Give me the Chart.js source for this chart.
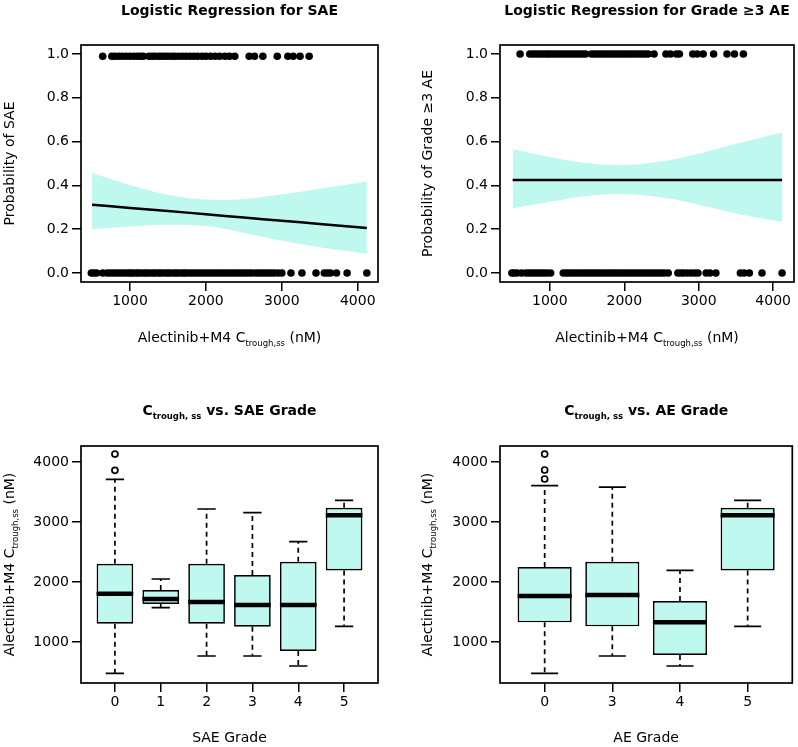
<!DOCTYPE html>
<html>
<head>
<meta charset="utf-8">
<script src="https://cdn.jsdelivr.net/npm/chart.js@4"></script>
<style>
  body { margin: 0; background: #fff; }
  #wrap { position: relative; width: 798px; height: 747px; }
  canvas { position: absolute; }
</style>
</head>
<body>
<div id="wrap">
  <canvas id="c-sae" width="400" height="380" style="left:0;top:0"></canvas>
  <canvas id="c-ae3" width="398" height="380" style="left:400px;top:0"></canvas>
  <canvas id="c-box-sae" width="400" height="367" style="left:0;top:380px"></canvas>
  <canvas id="c-box-ae" width="398" height="367" style="left:400px;top:380px"></canvas>
</div>
<script>
const FONT = 'DejaVu Sans';
const CYAN = '#bff8ee';

// ticks
const PROB_TICKS = [0, 0.2, 0.4, 0.6, 0.8, 1.0];
const CONC_TICKS = [1000, 2000, 3000, 4000];

// observaciones (x = Ctrough) por evento
const SAE_YES = [640, 760, 800, 850, 900, 950, 1000, 1050, 1100, 1140, 1175, 1250, 1290, 1330, 1380, 1420, 1460,
    1500, 1550, 1590, 1640, 1690, 1740, 1790, 1840, 1890, 1950, 2000, 2060, 2120, 2180, 2250, 2310, 2380,
    2570, 2640, 2750, 2940, 3080, 3150, 3240, 3360];
const SAE_NO = [490, 520, 560, 640, 700, 740, 780, 820, 860, 900, 940, 980, 1010, 1040, 1080, 1110, 1150, 1190,
    1220, 1260, 1300, 1330, 1370, 1400, 1440, 1480, 1510, 1550, 1590, 1620, 1660, 1700, 1730, 1770, 1810, 1850,
    1890, 1930, 1970, 2010, 2050, 2090, 2130, 2170, 2210, 2250, 2290, 2330, 2370, 2410, 2450, 2490, 2530, 2570,
    2610, 2660, 2700, 2740, 2780, 2820, 2860, 2900, 2950, 3000, 3120, 3265, 3450, 3560, 3600, 3640, 3720, 3860, 4120];
const AE3_YES = [600, 730, 770, 810, 850, 890, 930, 970, 1000, 1040, 1080, 1120, 1160, 1200, 1240, 1280, 1320,
    1360, 1400, 1440, 1480, 1560, 1600, 1640, 1680, 1720, 1760, 1800, 1840, 1880, 1920, 1960, 2000, 2040, 2080,
    2120, 2160, 2200, 2240, 2280, 2320, 2400, 2560, 2620, 2700, 2740, 2920, 2980, 3060, 3200, 3380, 3480, 3600];
const AE3_NO = [490, 520, 560, 620, 680, 720, 760, 800, 840, 880, 920, 960, 1010, 1180, 1220, 1260, 1300, 1340,
    1380, 1420, 1460, 1500, 1540, 1580, 1620, 1660, 1700, 1740, 1780, 1820, 1860, 1900, 1940, 1980, 2020, 2060,
    2100, 2140, 2180, 2220, 2260, 2300, 2340, 2380, 2420, 2460, 2500, 2540, 2590, 2720, 2760, 2800, 2850, 2900,
    2950, 2990, 3100, 3150, 3230, 3560, 3610, 3680, 3850, 4120];

// curvas ajustadas con IC
const CURVE_X = [500, 1000, 1500, 2000, 2500, 3000, 3500, 4120];
const SAE_FIT = [0.312, 0.297, 0.283, 0.268, 0.253, 0.238, 0.224, 0.205];
const SAE_UP = [0.457, 0.402, 0.357, 0.335, 0.338, 0.359, 0.385, 0.418];
const SAE_LO = [0.200, 0.212, 0.220, 0.214, 0.183, 0.148, 0.117, 0.087];
const AE3_FIT = [0.425, 0.425, 0.425, 0.425, 0.425, 0.425, 0.425, 0.425];
const AE3_UP = [0.565, 0.530, 0.502, 0.493, 0.510, 0.545, 0.590, 0.642];
const AE3_LO = [0.295, 0.325, 0.352, 0.360, 0.345, 0.312, 0.272, 0.233];

// boxplots
const SAE_GRADES = ['0', '1', '2', '3', '4', '5'];
const SAE_MIN = [478, 1572, 767, 767, 600, 1261];
const SAE_Q1 = [1305, 1633, 1305, 1255, 850, 2194];
const SAE_MED = [1805, 1717, 1667, 1617, 1617, 3111];
const SAE_Q3 = [2305, 1867, 2305, 2117, 2339, 3239];
const SAE_MAX = [3711, 2050, 3217, 3155, 2672, 3361];
const SAE_OUT = [[3861, 4133], [], [], [], [], []];

const AE_GRADES = ['0', '3', '4', '5'];
const AE_MIN = [478, 767, 600, 1261];
const AE_Q1 = [1328, 1261, 783, 2194];
const AE_MED = [1767, 1783, 1328, 3111];
const AE_Q3 = [2250, 2339, 1683, 3239];
const AE_MAX = [3606, 3583, 2194, 3361];
const AE_OUT = [[3717, 3867, 4133], [], [], []];

// texto con subindices
function drawParts(ctx, parts, cx, cy, angle) {
    ctx.save();
    ctx.translate(cx, cy);
    ctx.rotate(angle || 0);
    ctx.fillStyle = '#000';
    ctx.textAlign = 'left';
    ctx.textBaseline = 'alphabetic';
    let total = 0;
    parts.forEach(p => { ctx.font = p.font; p.w = ctx.measureText(p.t).width; total += p.w; });
    let x = -total / 2;
    parts.forEach(p => {
        ctx.font = p.font;
        ctx.fillText(p.t, x, 5 + (p.dy || 0));
        x += p.w;
    });
    ctx.restore();
}

const N14 = `14px "${FONT}"`;
const B14 = `bold 14px "${FONT}"`;
const S8 = `8.5px "${FONT}"`;
const SB8 = `bold 8.5px "${FONT}"`;
const CONC_LABEL = [{ t: 'Alectinib+M4 C', font: N14 }, { t: 'trough,ss', font: S8, dy: 4 }, { t: ' (nM)', font: N14 }];

const frame = {
    id: 'frame',
    afterDraw(chart) {
        const { ctx, chartArea: a } = chart;
        const o = chart.options.plugins.frame;
        ctx.save();
        ctx.strokeStyle = '#000';
        ctx.lineWidth = 1.7;
        ctx.strokeRect(a.left, a.top, a.right - a.left, a.bottom - a.top);
        ctx.restore();
        const mid = (a.left + a.right) / 2;
        drawParts(ctx, o.title, mid, o.titleY);
        drawParts(ctx, o.xTitle, mid, o.xTitleY);
        drawParts(ctx, o.yTitle, o.yTitleX, (a.top + a.bottom) / 2, -Math.PI / 2);
    }
};

const boxExtras = {
    id: 'boxExtras',
    afterDatasetsDraw(chart) {
        const o = chart.options.plugins.boxExtras;
        if (!o || !o.med) return;
        const { ctx } = chart;
        const xs = chart.scales.x, ys = chart.scales.y;
        const bars = chart.getDatasetMeta(0).data;
        ctx.save();
        ctx.strokeStyle = '#000';
        o.med.forEach((m, i) => {
            const x = xs.getPixelForValue(i + 1);
            const hw = bars[i].width / 2;
            // bigotes
            ctx.lineWidth = 1.7;
            ctx.setLineDash([5, 4]);
            ctx.beginPath();
            ctx.moveTo(x, ys.getPixelForValue(o.q3[i]));
            ctx.lineTo(x, ys.getPixelForValue(o.max[i]));
            ctx.moveTo(x, ys.getPixelForValue(o.q1[i]));
            ctx.lineTo(x, ys.getPixelForValue(o.min[i]));
            ctx.stroke();
            ctx.setLineDash([]);
            ctx.beginPath();
            ctx.moveTo(x - hw / 2, ys.getPixelForValue(o.max[i]));
            ctx.lineTo(x + hw / 2, ys.getPixelForValue(o.max[i]));
            ctx.moveTo(x - hw / 2, ys.getPixelForValue(o.min[i]));
            ctx.lineTo(x + hw / 2, ys.getPixelForValue(o.min[i]));
            ctx.stroke();
            // mediana
            ctx.lineWidth = 4.5;
            ctx.beginPath();
            ctx.moveTo(x - hw, ys.getPixelForValue(m));
            ctx.lineTo(x + hw, ys.getPixelForValue(m));
            ctx.stroke();
        });
        ctx.restore();
    }
};

function fixedTicks(values) {
    return scale => { scale.ticks = values.map(v => ({ value: v })); };
}

function axisCommon(extra) {
    return Object.assign({
        grid: { display: true, offset: false, drawOnChartArea: false, drawTicks: true, tickLength: 9, color: '#000', lineWidth: 1.5 },
        border: { display: false },
    }, extra);
}

function logisticChart(id, opts) {
    return new Chart(document.getElementById(id), {
        type: 'scatter',
        data: {
            datasets: [
                { data: opts.yes.map(x => ({ x, y: opts.yesY })), pointRadius: 3.8, backgroundColor: '#000', borderWidth: 0 },
                { data: opts.no.map(x => ({ x, y: 0 })), pointRadius: 3.8, backgroundColor: '#000', borderWidth: 0 },
                { data: CURVE_X.map((x, i) => ({ x, y: opts.fit[i] })), showLine: true, borderColor: '#000', borderWidth: 2.5, pointRadius: 0, tension: 0.4 },
                { data: CURVE_X.map((x, i) => ({ x, y: opts.up[i] })), showLine: true, borderWidth: 0, borderColor: CYAN, pointRadius: 0, tension: 0.4, fill: '+1', backgroundColor: CYAN },
                { data: CURVE_X.map((x, i) => ({ x, y: opts.lo[i] })), showLine: true, borderWidth: 0, borderColor: CYAN, pointRadius: 0, tension: 0.4, fill: false },
            ]
        },
        options: {
            responsive: false,
            animation: false,
            devicePixelRatio: 1,
            layout: { padding: { top: 45, right: opts.padRight, left: 0, bottom: 0 } },
            plugins: {
                legend: { display: false },
                tooltip: { enabled: false },
                frame: { title: opts.title, titleY: 10, xTitle: CONC_LABEL, xTitleY: 337, yTitle: opts.yTitle, yTitleX: opts.yTitleX },
            },
            scales: {
                x: axisCommon({
                    type: 'linear', min: opts.xMin, max: opts.xMax,
                    afterBuildTicks: fixedTicks(CONC_TICKS),
                    afterFit: s => { s.height = 98; },
                    ticks: { color: '#000', padding: 2, maxRotation: 0, font: { family: FONT, size: 14 }, callback: v => String(v) },
                }),
                y: axisCommon({
                    min: -0.0414, max: 1.0414,
                    afterBuildTicks: fixedTicks(PROB_TICKS),
                    afterFit: s => { s.width = opts.yWidth; },
                    ticks: { color: '#000', padding: 3, font: { family: FONT, size: 14 }, callback: v => v.toFixed(1) },
                }),
            }
        },
        plugins: [frame]
    });
}

function boxChart(id, opts) {
    const n = opts.grades.length;
    const outs = [];
    opts.out.forEach((arr, i) => arr.forEach(v => outs.push({ x: i + 1, y: v })));
    return new Chart(document.getElementById(id), {
        type: 'bar',
        data: {
            datasets: [
                {
                    data: opts.q1.map((q, i) => ({ x: i + 1, y: [q, opts.q3[i]] })),
                    backgroundColor: CYAN, borderColor: '#000', borderWidth: 1.7, borderSkipped: false,
                    barPercentage: 0.8, categoryPercentage: 1,
                },
                {
                    type: 'scatter', data: outs, pointRadius: 3, borderWidth: 1.7,
                    borderColor: '#000', backgroundColor: 'rgba(0,0,0,0)',
                },
            ]
        },
        options: {
            responsive: false,
            animation: false,
            devicePixelRatio: 1,
            layout: { padding: { top: 66, right: opts.padRight, left: 0, bottom: 0 } },
            plugins: {
                legend: { display: false },
                tooltip: { enabled: false },
                boxExtras: { min: opts.min, q1: opts.q1, med: opts.med, q3: opts.q3, max: opts.max },
                frame: {
                    title: [{ t: 'C', font: B14 }, { t: 'trough, ss', font: SB8, dy: 4 }, { t: ' vs. ' + opts.name + ' Grade', font: B14 }],
                    titleY: 30,
                    xTitle: [{ t: opts.name + ' Grade', font: N14 }], xTitleY: 357,
                    yTitle: CONC_LABEL, yTitleX: opts.yTitleX,
                },
            },
            scales: {
                x: axisCommon({
                    type: 'linear', offset: false,
                    min: 0.5 - 0.04 * n, max: n + 0.5 + 0.04 * n,
                    afterBuildTicks: fixedTicks(opts.grades.map((g, i) => i + 1)),
                    afterFit: s => { s.height = 64; },
                    ticks: { color: '#000', padding: 2, maxRotation: 0, font: { family: FONT, size: 14 }, callback: v => opts.grades[v - 1] },
                }),
                y: axisCommon({
                    type: 'linear', min: 317, max: 4267, beginAtZero: false,
                    afterBuildTicks: fixedTicks(CONC_TICKS),
                    afterFit: s => { s.width = opts.yWidth; },
                    ticks: { color: '#000', padding: 3, font: { family: FONT, size: 14 }, callback: v => String(v) },
                }),
            }
        },
        plugins: [frame, boxExtras]
    });
}

logisticChart('c-sae', {
    yes: SAE_YES, no: SAE_NO, yesY: 0.99, fit: SAE_FIT, up: SAE_UP, lo: SAE_LO,
    xMin: 354, xMax: 4267, yWidth: 81, padRight: 22, yTitleX: 9,
    title: [{ t: 'Logistic Regression for SAE', font: B14 }],
    yTitle: [{ t: 'Probability of SAE', font: N14 }],
});

logisticChart('c-ae3', {
    yes: AE3_YES, no: AE3_NO, yesY: 1.0, fit: AE3_FIT, up: AE3_UP, lo: AE3_LO,
    xMin: 330, xMax: 4280, yWidth: 100, padRight: 1, yTitleX: 27,
    title: [{ t: 'Logistic Regression for Grade \u22653 AE', font: B14 }],
    yTitle: [{ t: 'Probability of Grade \u22653 AE', font: N14 }],
});

boxChart('c-box-sae', {
    name: 'SAE', grades: SAE_GRADES, min: SAE_MIN, q1: SAE_Q1, med: SAE_MED, q3: SAE_Q3, max: SAE_MAX, out: SAE_OUT,
    yWidth: 81, padRight: 22, yTitleX: 9,
});

boxChart('c-box-ae', {
    name: 'AE', grades: AE_GRADES, min: AE_MIN, q1: AE_Q1, med: AE_MED, q3: AE_Q3, max: AE_MAX, out: AE_OUT,
    yWidth: 100, padRight: 1, yTitleX: 27,
});
</script>
</body>
</html>
